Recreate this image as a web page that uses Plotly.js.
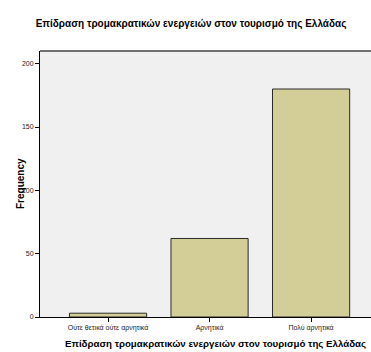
<!DOCTYPE html>
<html>
<head>
<meta charset="utf-8">
<script src="https://cdn.plot.ly/plotly-3.0.1.min.js"></script>
<style>html,body{margin:0;padding:0;background:#fff;}#chart{width:371px;height:352px;}</style>
</head>
<body>
<div id="chart"></div>
<script>
const categories = ["Ούτε θετικά ούτε αρνητικά", "Αρνητικά", "Πολύ αρνητικά"];
const frequencies = [3, 62, 180];
const yTickValues = [0, 50, 100, 150, 200];
const chartTitle = "Επίδραση τρομακρατικών ενεργειών στον τουρισμό της Ελλάδας";
const xTitle = "Επίδραση τρομακρατικών ενεργειών στον τουρισμό της Ελλάδας";
const yTitle = "Frequency";

const trace = {
  type: 'bar',
  x: categories,
  y: frequencies,
  marker: {color: '#d3ce97', line: {color: '#2a2a2a', width: 1}},
  hoverinfo: 'x+y'
};

const layout = {
  width: 371, height: 352,
  margin: {l: 40, r: 0, t: 51, b: 35},
  paper_bgcolor: '#ffffff',
  plot_bgcolor: '#f0f0f0',
  bargap: 0.24,
  showlegend: false,
  font: {family: 'Liberation Sans, Arial, sans-serif', color: '#000'},
  title: {
    text: chartTitle,
    font: {size: 10, family: 'Liberation Sans, Arial, sans-serif', weight: 'bold', color: '#000'},
    x: 0.515, xref: 'container', xanchor: 'center',
    y: 0.932, yref: 'container', yanchor: 'middle'
  },
  xaxis: {
    type: 'category',
    range: [-0.67, 2.59],
    showline: true, linecolor: '#000', linewidth: 1,
    ticks: 'outside', ticklen: 4, tickcolor: '#000', tickwidth: 1,
    tickfont: {size: 7, color: '#222'},
    showgrid: false, zeroline: false,
    fixedrange: true
  },
  yaxis: {
    range: [0, 210],
    tickvals: yTickValues,
    showline: true, linecolor: '#000', linewidth: 1,
    ticks: 'outside', ticklen: 4, tickcolor: '#000', tickwidth: 1,
    tickfont: {size: 7, color: '#222'},
    showgrid: false, zeroline: false,
    fixedrange: true
  },
  annotations: [{
    text: xTitle, xref: 'paper', yref: 'paper', x: 0.53, y: -0.1,
    xanchor: 'center', yanchor: 'middle', showarrow: false,
    font: {size: 9.7, weight: 'bold', color: '#000'}
  }, {
    text: yTitle, xref: 'paper', yref: 'paper', x: -0.0604, y: 0.5,
    xanchor: 'center', yanchor: 'middle', showarrow: false, textangle: -90,
    font: {size: 10, weight: 'bold', color: '#000'}
  }],
  shapes: [{
    type: 'line', xref: 'paper', yref: 'paper', x0: 0, x1: 1, y0: 1, y1: 1,
    line: {color: '#707070', width: 2}
  }]
};

Plotly.newPlot('chart', [trace], layout, {displayModeBar: false});
</script>
</body>
</html>
